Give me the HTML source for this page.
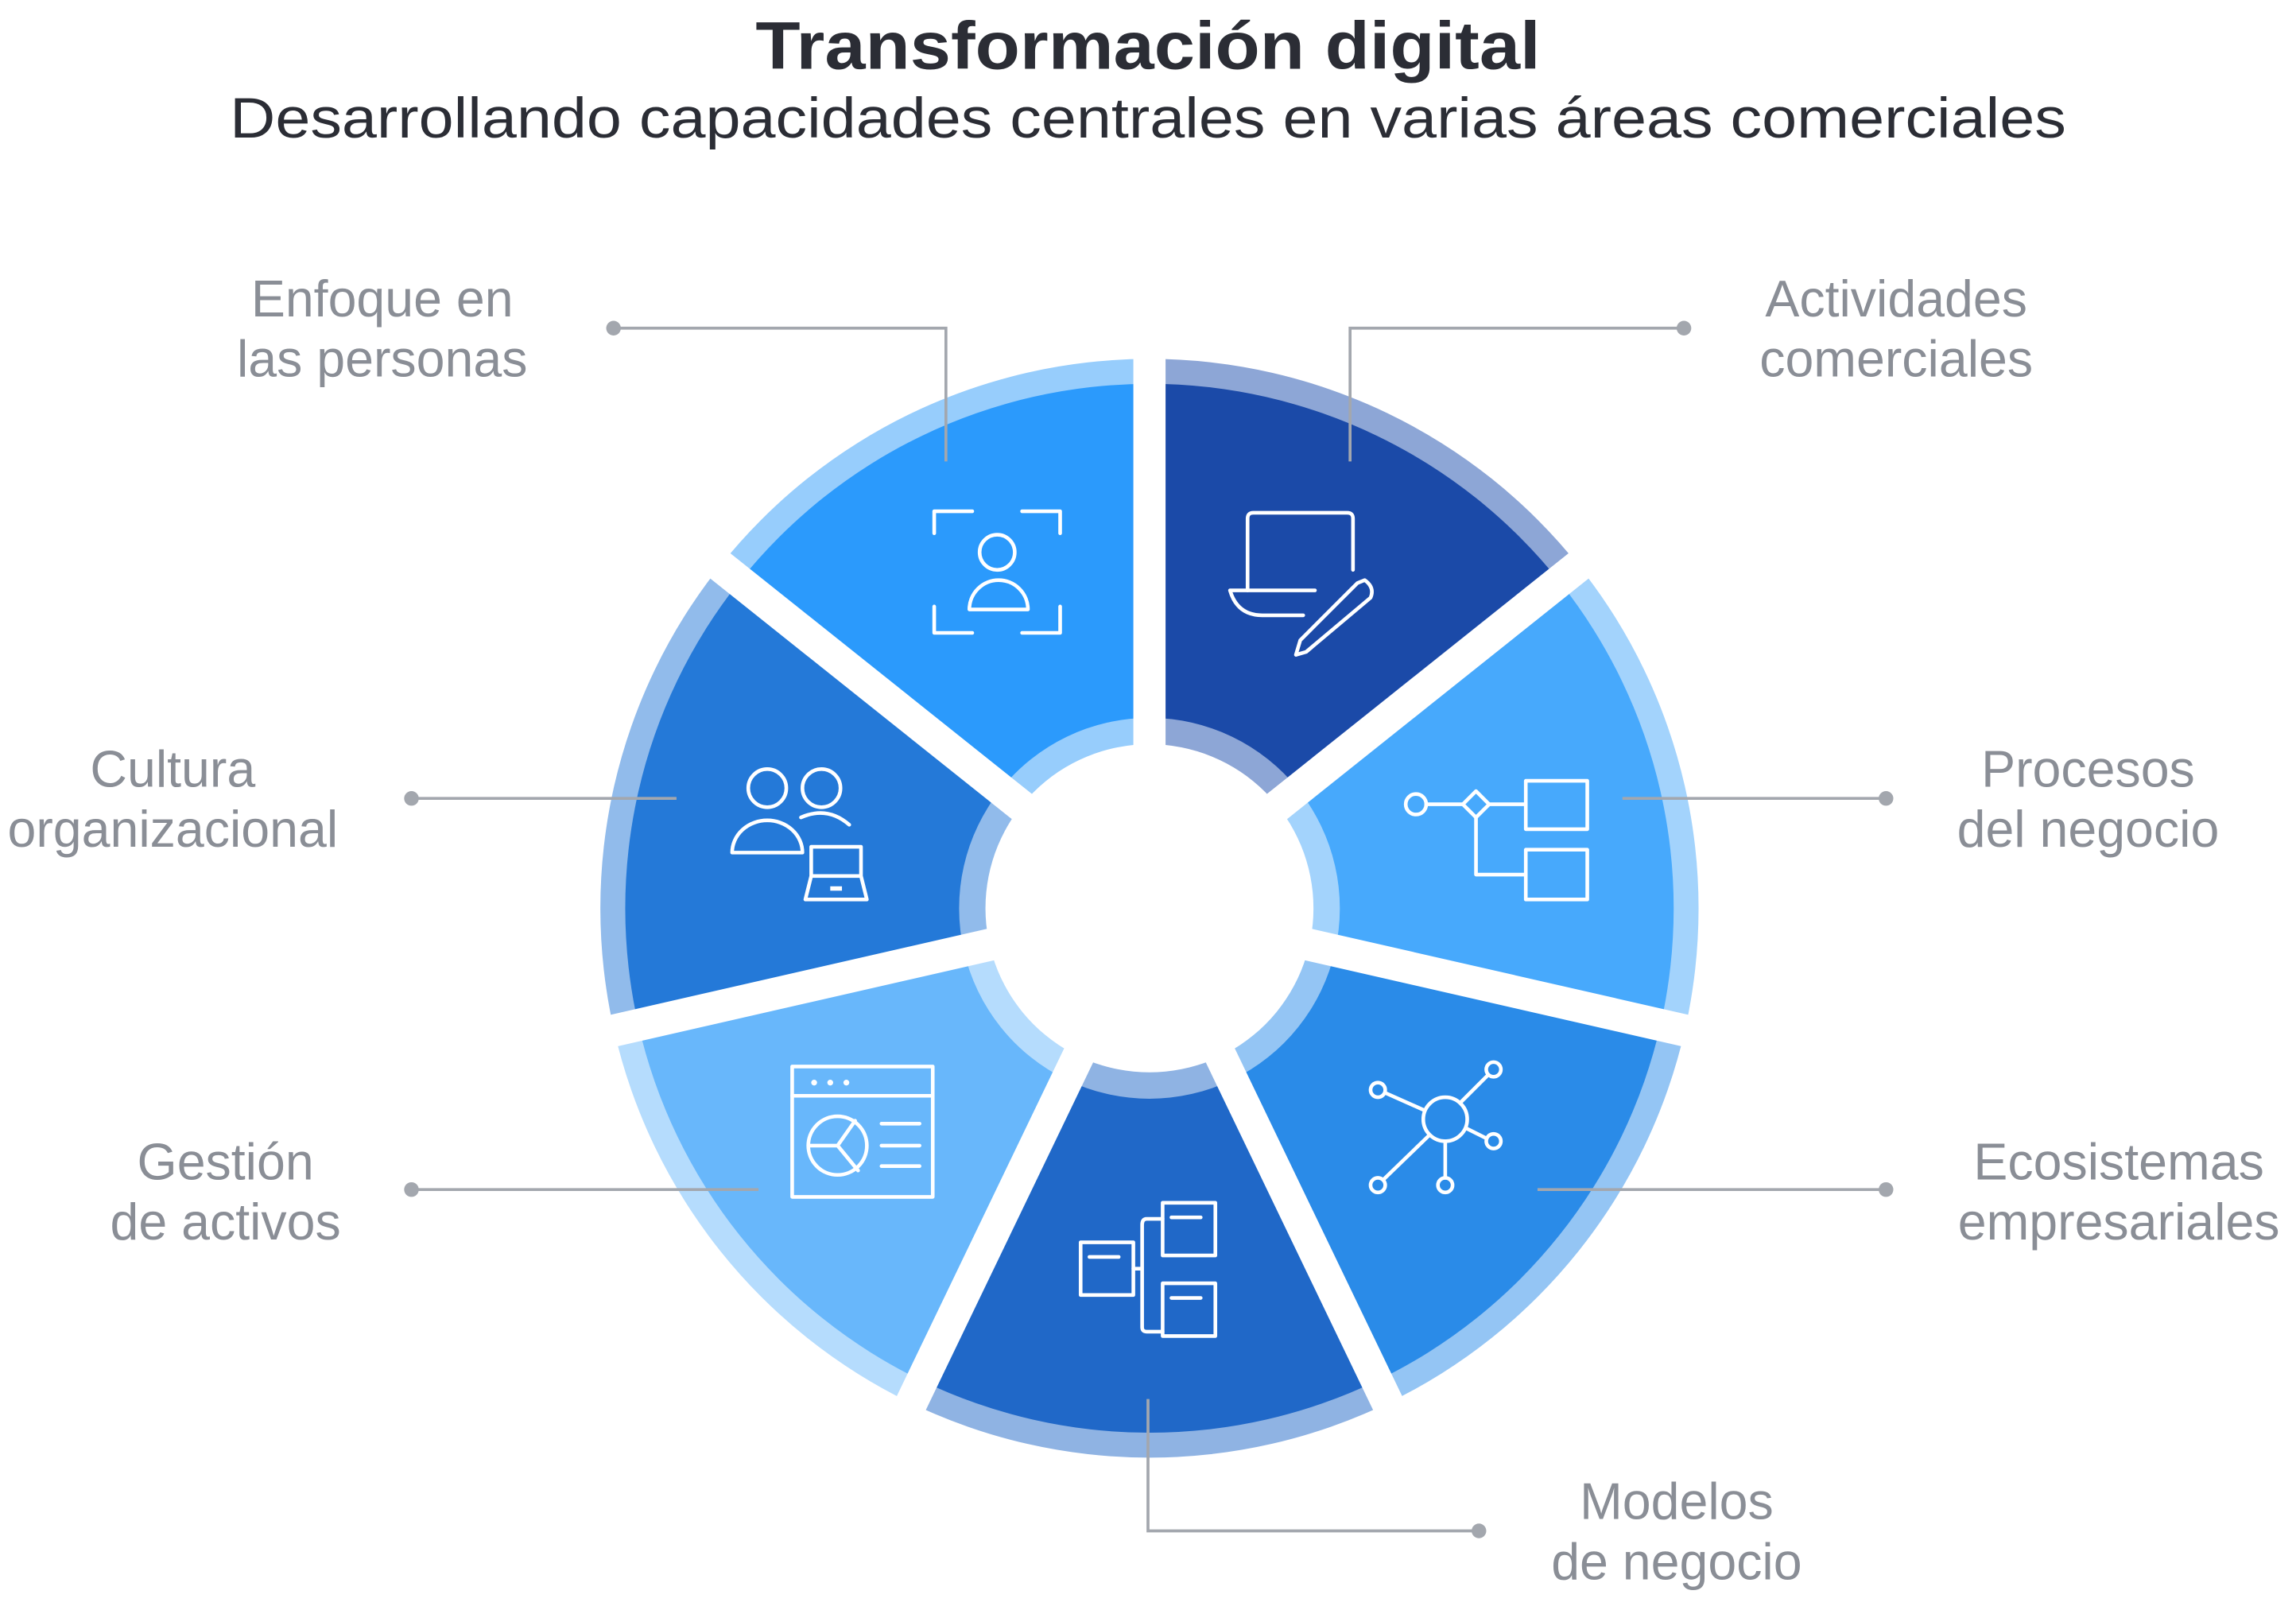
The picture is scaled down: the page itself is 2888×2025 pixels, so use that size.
<!DOCTYPE html>
<html><head><meta charset="utf-8"><style>
html,body{margin:0;padding:0;background:#fff;}
svg{display:block;}
text{font-family:"Liberation Sans",sans-serif;}
</style></head><body>
<svg width="2888" height="2025" viewBox="0 0 1568 1099" preserveAspectRatio="none" xmlns="http://www.w3.org/2000/svg">
<rect width="1568" height="1099" fill="#fff"/>
<text x="784" y="47" text-anchor="middle" font-size="46" font-weight="bold" fill="#2B2D35" textLength="536" lengthAdjust="spacingAndGlyphs">Transformación digital</text>
<text x="784" y="94" text-anchor="middle" font-size="39" fill="#2B2D35" textLength="1254" lengthAdjust="spacingAndGlyphs">Desarrollando capacidades centrales en varias áreas comerciales</text>

<g id="wheel"></g>
<script>
(function(){
var cx=785,cy=620,NS="http://www.w3.org/2000/svg";
var segs=[["#1B4AA8","#8DA6D6"],["#47A9FC","#A3D3FC"],["#2A8BE8","#94C5F4"],["#2068C8","#8FB3E3"],["#68B7FB","#B5DCFD"],["#2479D8","#91BBEB"],["#2B9AFC","#97CDFC"]];
var g=document.getElementById("wheel");
function pt(r,a){a=a*Math.PI/180;return [cx+r*Math.sin(a),cy-r*Math.cos(a)];}
function sector(r1,r2,a1,a2,col){
 var p1=pt(r2,a1),p2=pt(r2,a2),p3=pt(r1,a2),p4=pt(r1,a1);
 var d="M"+p1+" A"+r2+" "+r2+" 0 0 1 "+p2+" L"+p3+" A"+r1+" "+r1+" 0 0 0 "+p4+"Z";
 var e=document.createElementNS(NS,"path");e.setAttribute("d",d);e.setAttribute("fill",col);g.appendChild(e);
}
var s=360/7;
for(var i=0;i<7;i++){
 var a1=i*s,a2=(i+1)*s;
 sector(100,375,a1,a2,segs[i][1]);
 sector(130,358,a1,a2,segs[i][0]);
}
for(var i=0;i<7;i++){
 var p=pt(400,i*s);
 var l=document.createElementNS(NS,"line");
 l.setAttribute("x1",cx);l.setAttribute("y1",cy);l.setAttribute("x2",p[0]);l.setAttribute("y2",p[1]);
 l.setAttribute("stroke","#fff");l.setAttribute("stroke-width","22");g.appendChild(l);
}
var c=document.createElementNS(NS,"circle");c.setAttribute("cx",cx);c.setAttribute("cy",cy);c.setAttribute("r",112);c.setAttribute("fill","#fff");g.appendChild(c);
})();
</script>

<g stroke="#A3A7AE" stroke-width="2" fill="none">
<polyline points="419,224 646,224 646,315"/>
<polyline points="922,315 922,224 1150,224"/>
<line x1="281" y1="545" x2="462" y2="545"/>
<line x1="1108" y1="545" x2="1288" y2="545"/>
<line x1="281" y1="812" x2="518" y2="812"/>
<line x1="1050" y1="812" x2="1288" y2="812"/>
<polyline points="784,955 784,1045 1010,1045"/>
</g>
<g fill="#A3A7AE">
<circle cx="419" cy="224" r="5"/><circle cx="1150" cy="224" r="5"/>
<circle cx="281" cy="545" r="5"/><circle cx="1288" cy="545" r="5"/>
<circle cx="281" cy="812" r="5"/><circle cx="1288" cy="812" r="5"/>
<circle cx="1010" cy="1045" r="5"/>
</g>

<g font-size="35" fill="#8A8E96" text-anchor="middle">
<text x="261" y="216">Enfoque en</text><text x="261" y="257">las personas</text>
<text x="1295" y="216">Actividades</text><text x="1295" y="257">comerciales</text>
<text x="118" y="537">Cultura</text><text x="118" y="578">organizacional</text>
<text x="1426" y="537">Procesos</text><text x="1426" y="578">del negocio</text>
<text x="154" y="805">Gestión</text><text x="154" y="846">de activos</text>
<text x="1447" y="805">Ecosistemas</text><text x="1447" y="846">empresariales</text>
<text x="1145" y="1037">Modelos</text><text x="1145" y="1078">de negocio</text>
</g>

<g stroke="#fff" stroke-width="2.5" fill="none" stroke-linecap="round" stroke-linejoin="round">
<path d="M638,364 V349 H664 M698,349 H724 V364 M638,414 V432 H664 M698,432 H724 V414"/>
<circle cx="681" cy="377" r="12"/>
<path d="M662,416 A20,20 0 0 1 702,416 Z"/>
<path d="M852,403 V354 Q852,350 856,350 H920 Q924,350 924,354 V389"/>
<path d="M840,403 H898 M840,403 Q845,420 862,420 H890"/>
<path d="M927,398 L932,396 Q939,401 936,408 L892,445 L885,447 L888,437 Z"/>
<circle cx="967" cy="549" r="7"/>
<path d="M974,549 H999 M1017,549 H1042 M1008,558 V597 H1042"/>
<path d="M1008,540 L1017,549 L1008,558 L999,549 Z"/>
<rect x="1042" y="533" width="42" height="33"/>
<rect x="1042" y="580" width="42" height="34"/>
<circle cx="987" cy="764" r="15"/>
<circle cx="941" cy="744" r="5"/><circle cx="1020" cy="730" r="5"/><circle cx="1020" cy="779" r="5"/><circle cx="941" cy="809" r="5"/><circle cx="987" cy="809" r="5"/>
<path d="M946,746 L973,758 M1016,734 L998,752 M1015,777 L1001,770 M945,805 L976,775 M987,779 V804"/>
<rect x="738" y="848" width="36" height="36"/>
<rect x="794" y="821" width="36" height="36"/>
<rect x="794" y="876" width="36" height="36"/>
<path d="M744,858 H764 M800,831 H820 M800,886 H820 M774,866 H780 M794,832 H783 Q780,832 780,836 V906 Q780,909 783,909 H794"/>
<rect x="541" y="728" width="96" height="89"/>
<path d="M541,748 H637"/>
<circle cx="572" cy="782" r="20"/>
<path d="M552,782 H572 L584,765 M572,782 L586,799 M602,767 H628 M602,782 H628 M602,796 H628"/>
<circle cx="524" cy="538" r="13"/><circle cx="561" cy="538" r="13"/>
<path d="M500,582 A24,22 0 0 1 548,582 Z"/>
<path d="M547,558 Q565,550 580,563"/>
<path d="M554,578 H588 V598 H554 Z M554,598 L550,614 H592 L588,598"/>
</g>
<g fill="#fff">
<circle cx="556" cy="739" r="2"/><circle cx="567" cy="739" r="2"/><circle cx="578" cy="739" r="2"/>
<rect x="567" y="605" width="8" height="3"/>
</g>
</svg>
</body></html>
